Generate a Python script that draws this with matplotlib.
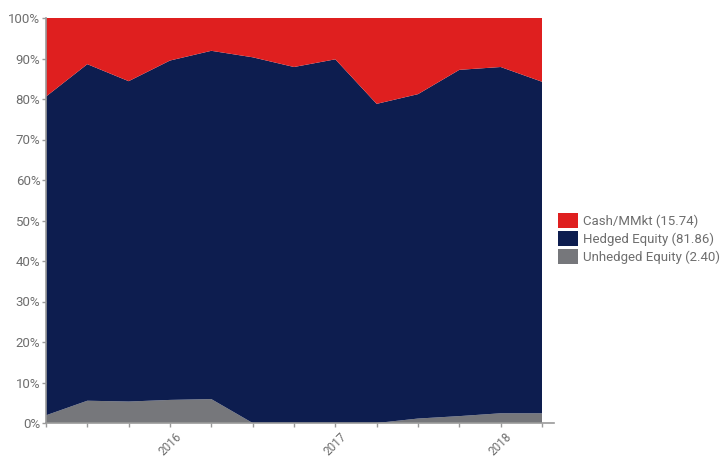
import matplotlib
matplotlib.use("Agg")
import matplotlib.pyplot as plt
import numpy as np

plt.rcParams['font.family'] = ['Roboto', 'DejaVu Sans']

periods = list(range(13))
tick_positions = [3, 7, 11]
tick_labels = ["2016", "2017", "2018"]

unhedged = [1.9, 5.5, 5.3, 5.7, 5.9, 0.0, 0.0, 0.0, 0.0, 1.1, 1.7, 2.4, 2.40]
hedged_top = [80.6, 88.6, 84.4, 89.5, 91.9, 90.3, 87.9, 89.8, 78.8, 81.2, 87.2, 87.9, 84.26]
hedged = [t - u for t, u in zip(hedged_top, unhedged)]
cash = [100 - t for t in hedged_top]

labels = ["Cash/MMkt (15.74)", "Hedged Equity (81.86)", "Unhedged Equity (2.40)"]
colors = {"cash": "#DF1F1F", "hedged": "#0D1D4F", "unhedged": "#76777B"}
axis_grey = "#9A9A9A"
text_grey = "#6E6E6E"

fig = plt.figure(figsize=(7.2, 4.58), dpi=100)
ax = fig.add_axes([46/720, 35/458, 496/720, 405/458])

polys = ax.stackplot(periods, unhedged, hedged, cash,
                     colors=[colors["unhedged"], colors["hedged"], colors["cash"]],
                     linewidth=0)

ax.set_xlim(0, 12)
ax.set_ylim(0, 100)

for s in ["top", "right", "bottom"]:
    ax.spines[s].set_visible(False)
ax.spines["left"].set_color(axis_grey)
ax.spines["left"].set_linewidth(1.2)

ax.plot([0, 1.024], [0, 0], transform=ax.transAxes, color=axis_grey,
        lw=1.2, clip_on=False, zorder=5)

ax.set_yticks(np.arange(0, 101, 10))
ax.set_yticklabels([f"{v}%" for v in range(0, 101, 10)])
ax.tick_params(axis="y", colors=axis_grey, labelcolor=text_grey, labelsize=9.5,
               length=3, width=1, pad=1)

ax.set_xticks(periods, minor=True)
ax.set_xticks(tick_positions)
ax.set_xticklabels(tick_labels, rotation=45, ha="center")
ax.tick_params(axis="x", which="both", colors=axis_grey, labelcolor=text_grey,
               labelsize=8.5, length=3, width=1)
ax.tick_params(axis="x", which="major", pad=2)

handles = [polys[2], polys[1], polys[0]]
leg = fig.legend(handles, labels, loc="upper left",
                 bbox_to_anchor=(558/720, 1 - 213/458), frameon=False,
                 fontsize=9.5, handlelength=1.52, handleheight=1.37,
                 handletextpad=0.4, labelspacing=0.22, borderaxespad=0,
                 borderpad=0)
for t in leg.get_texts():
    t.set_color(text_grey)

fig.savefig("out.png", dpi=100)
